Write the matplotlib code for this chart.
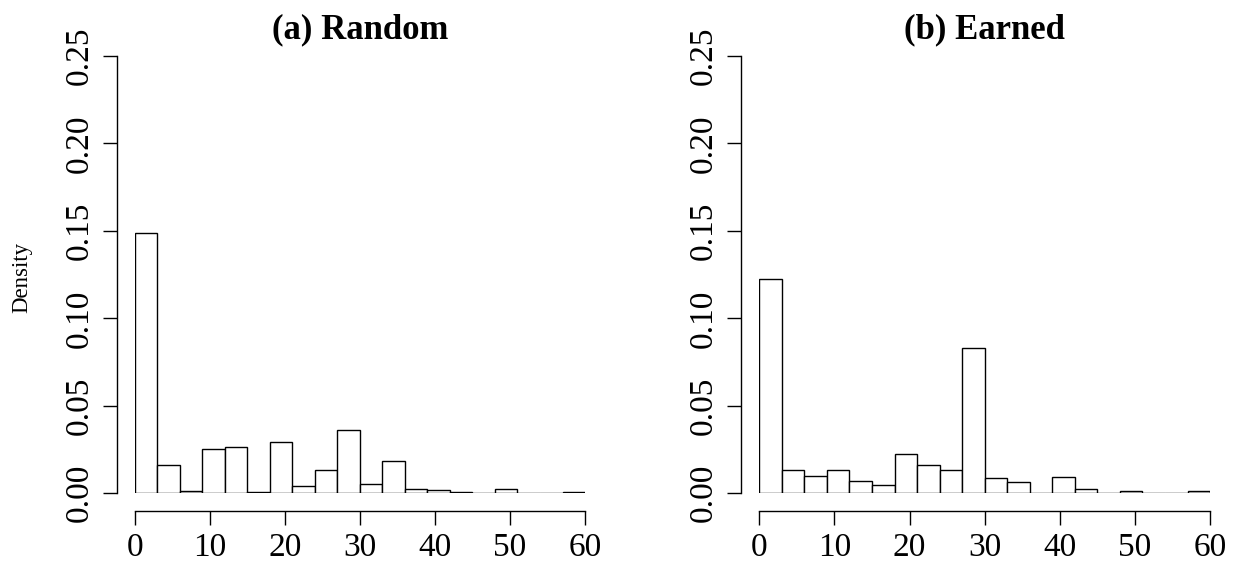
import numpy as np
import matplotlib
matplotlib.use('Agg')
import matplotlib.pyplot as plt

plt.rcParams['font.family'] = ['Liberation Serif', 'DejaVu Serif']

# Histogram bins (width 3) and densities
bin_left = [0, 3, 6, 9, 12, 15, 18, 21, 24, 27, 30, 33, 36, 39, 42, 45, 48, 51, 54, 57]
random_density = [0.149, 0.016, 0.0013, 0.0253, 0.0266, 0.0006, 0.0291, 0.0044, 0.0131, 0.0364,
                  0.0055, 0.0187, 0.0027, 0.0021, 0.001, 0.0, 0.0027, 0.0, 0.0, 0.0008]
earned_density = [0.1227, 0.0131, 0.0099, 0.0131, 0.0068, 0.005, 0.0223, 0.016, 0.0131, 0.0828,
                  0.0086, 0.0063, 0.0, 0.0093, 0.0027, 0.0, 0.0013, 0.0, 0.0, 0.0013]
titles = ['(a) Random', '(b) Earned']
x_ticks = [0, 10, 20, 30, 40, 50, 60]
y_ticks = [0.00, 0.05, 0.10, 0.15, 0.20, 0.25]

fig = plt.figure(figsize=(12.35, 5.71), dpi=100)
ax_pos = [[0.1091, 0.1361, 0.3646, 0.7658], [0.6148, 0.1361, 0.3650, 0.7658]]

for pos, dens, title in zip(ax_pos, [random_density, earned_density], titles):
    ax = fig.add_axes(pos)
    ax.bar(bin_left, dens, width=3, align='edge', color='white', edgecolor='black', linewidth=1.0)
    ax.set_xlim(0, 60)
    ax.set_ylim(0, 0.25)
    ax.spines['top'].set_visible(False)
    ax.spines['right'].set_visible(False)
    ax.spines['left'].set_position(('outward', 13))
    ax.spines['bottom'].set_position(('outward', 12.5))
    ax.spines['left'].set_bounds(0, 0.25)
    ax.spines['bottom'].set_bounds(0, 60)
    for s in ['left', 'bottom']:
        ax.spines[s].set_linewidth(1.0)
    ax.set_xticks(x_ticks)
    ax.set_xticklabels([str(t) for t in x_ticks])
    ax.set_yticks(y_ticks)
    ax.set_yticklabels(['%.2f' % t for t in y_ticks], rotation=90, va='center')
    ax.tick_params(axis='both', length=10, width=1.0, labelsize=24)
    ax.tick_params(axis='x', pad=6)
    ax.tick_params(axis='y', pad=6)
    cx = pos[0] + pos[2] / 2
    fig.text(cx, 1 - 30 / 571, title, ha='center', va='center', fontsize=25, fontweight='bold')

fig.text(22 / 1235, 1 - 277 / 571, 'Density', rotation=90, ha='center', va='center', fontsize=16.5)

fig.savefig('out.png', dpi=100)
